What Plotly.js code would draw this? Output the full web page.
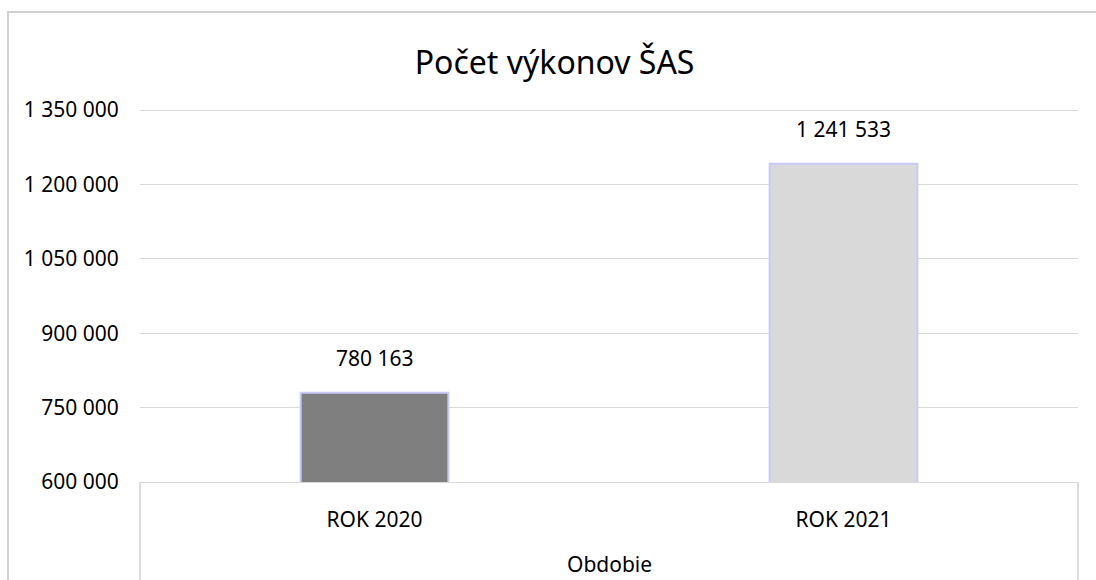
<!DOCTYPE html>
<html>
<head>
<meta charset="utf-8">
<script src="https://cdn.plot.ly/plotly-3.0.1.min.js"></script>
<style>
  html, body { margin: 0; padding: 0; background: #fff; overflow: hidden; }
  #wrap { position: relative; width: 1096px; height: 580px; overflow: hidden; }
  #chart { width: 1096px; height: 580px; }
  .fl { position: absolute; background: #d0d0d0; pointer-events: none; }
  #ftop { left: 7px; top: 11px; width: 1089px; height: 2px; }
  #fleft { left: 7px; top: 11px; width: 2px; height: 569px; }
</style>
</head>
<body>
<div id="wrap">
  <div id="chart"></div>
  <div id="ftop" class="fl"></div>
  <div id="fleft" class="fl"></div>
</div>
<script>
const categories = ["ROK 2020", "ROK 2021"];
const values = [780163, 1241533];
const barColors = ["#7f7f7f", "#d9d9d9"];
const chartTitle = "Počet výkonov ŠAS";
const xTitle = "Obdobie";
const yTickValues = [600000, 750000, 900000, 1050000, 1200000, 1350000];

function fmt(v) {
  return String(v).replace(/\B(?=(\d{3})+(?!\d))/g, " ");
}

const FONT = "Noto Sans, Open Sans, sans-serif";

const trace = {
  type: "bar",
  x: categories,
  y: values,
  width: 0.315,
  marker: { color: barColors, line: { color: "#c9c9fb", width: 2 } },
  hoverinfo: "skip"
};

const annotations = categories.map((c, i) => ({
  x: c, y: values[i], xref: "x", yref: "y",
  text: fmt(values[i]), showarrow: false,
  yanchor: "bottom", yshift: 19,
  font: { family: FONT, size: 21, color: "#000" }
}));
// x-axis title placed as an annotation so it can sit lower in the margin
annotations.push({
  xref: "paper", yref: "paper", x: 0.5, y: 0,
  text: xTitle, showarrow: false, borderpad: 0,
  xanchor: "center", yanchor: "bottom", yshift: -97,
  font: { family: FONT, size: 21, color: "#000" }
});

const layout = {
  width: 1096, height: 580,
  margin: { l: 140, r: 18, t: 107, b: 98 },
  paper_bgcolor: "#fff", plot_bgcolor: "#fff",
  showlegend: false,
  font: { family: FONT, size: 21, color: "#000" },
  title: {
    text: chartTitle,
    font: { family: FONT, size: 32, color: "#000" },
    xref: "container", yref: "container",
    x: 0.506, y: 0.892, xanchor: "center", yanchor: "middle"
  },
  xaxis: {
    type: "category",
    showgrid: false,
    showline: true, linecolor: "#d9d9d9", linewidth: 1,
    ticks: "outside", ticklen: 19, tickcolor: "rgba(0,0,0,0)",
    tickfont: { family: FONT, size: 21, color: "#000" },
    fixedrange: true
  },
  yaxis: {
    range: [600000, 1356048],
    tickvals: yTickValues,
    ticktext: yTickValues.map(fmt),
    showgrid: true, gridcolor: "#d9d9d9", gridwidth: 1,
    zeroline: false, showline: false,
    ticks: "outside", ticklen: 16, tickcolor: "rgba(0,0,0,0)",
    tickfont: { family: FONT, size: 21, color: "#000" },
    fixedrange: true
  },
  annotations: annotations,
  shapes: [
    { type: "line", xref: "paper", yref: "paper", x0: 0, x1: 0, y0: 0, y1: -0.3,
      line: { color: "#d0d0d0", width: 1.5 } },
    { type: "line", xref: "paper", yref: "paper", x0: 1, x1: 1, y0: 0, y1: -0.3,
      line: { color: "#d0d0d0", width: 1.5 } }
  ]
};

Plotly.newPlot("chart", [trace], layout, { displayModeBar: false, staticPlot: true });
</script>
</body>
</html>
